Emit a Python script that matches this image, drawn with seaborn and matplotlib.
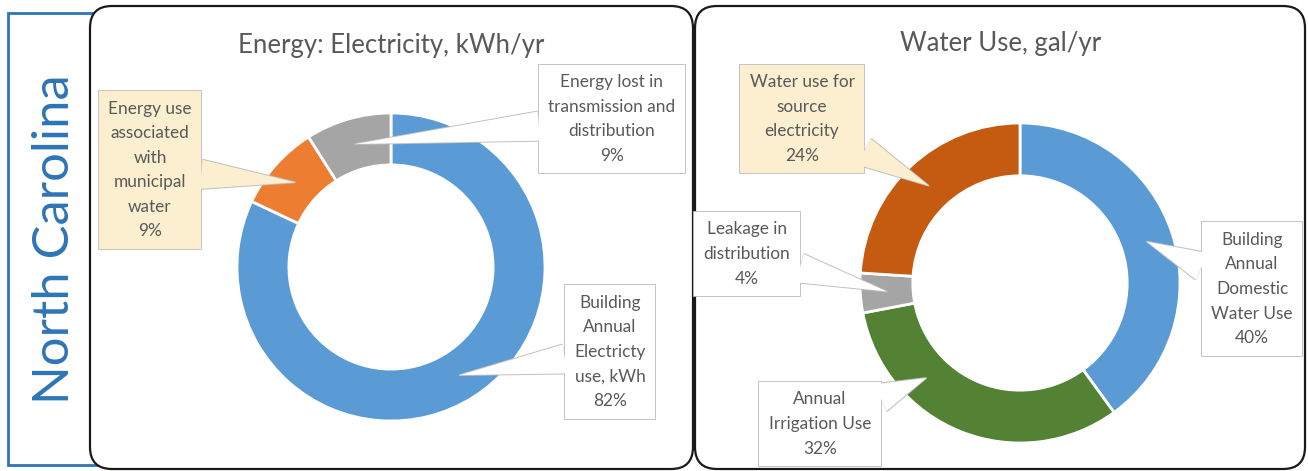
import numpy as np
import matplotlib.pyplot as plt
import seaborn as sns
from matplotlib.patches import FancyBboxPatch, Rectangle

# data
energy_labels = ["Building\nAnnual\nElectricty\nuse, kWh",
                 "Energy use\nassociated\nwith\nmunicipal\nwater",
                 "Energy lost in\ntransmission and\ndistribution"]
energy_pct = [82, 9, 9]
energy_colors = ["#5B9BD5", "#ED7D31", "#A5A5A5"]

water_labels = ["Building\nAnnual\nDomestic\nWater Use",
                "Annual\nIrrigation Use",
                "Leakage in\ndistribution",
                "Water use for\nsource\nelectricity"]
water_pct = [40, 32, 4, 24]
water_colors = ["#5B9BD5", "#548235", "#A5A5A5", "#C55A11"]

# callout box centres (figure pixels, y down), fills, pointer spot inside wedge
energy_boxes = [(610, 352), (150, 170), (612, 119)]
energy_fills = ["white", "#FCEFD0", "white"]
energy_fracs = [0.5, 0.5, 0.5]
water_boxes = [(1252, 289), (820, 424), (747, 254), (802, 119)]
water_fills = ["white", "white", "white", "#FCEFD0"]
water_fracs = [0.5, 0.7, 0.5, 0.5]

sns.set_theme(style="white")
plt.rcParams['font.family'] = ['Lato', 'DejaVu Sans']

W, H = 1308, 471
fig = plt.figure(figsize=(W / 100, H / 100), dpi=100)

bg = fig.add_axes([0, 0, 1, 1])
bg.set_xlim(0, W)
bg.set_ylim(H, 0)
bg.axis("off")

# side label box
bg.add_patch(Rectangle((8, 13), 110, 452, fc="white", ec="#2E75B6", lw=2, zorder=1))
bg.text(55, 239, "North Carolina", rotation=90, fontsize=36.5, color="#2E75B6",
        ha="center", va="center", zorder=2)

# rounded panels
for x0, x1 in [(90, 693), (695, 1305)]:
    bg.add_patch(FancyBboxPatch((x0, 6), x1 - x0, 463,
                                boxstyle="round,pad=0,rounding_size=22",
                                fc="white", ec="#1a1a1a", lw=1.6, zorder=3))

bg.text(391, 45, "Energy: Electricity, kWh/yr", fontsize=18.5, color="#595959",
        ha="center", va="center", zorder=4)
bg.text(1001, 43, "Water Use, gal/yr", fontsize=18.5, color="#595959",
        ha="center", va="center", zorder=4)


def donut(center, radius, width, values, colors, labels, boxes, fills, fracs):
    cx, cy = center
    ax = fig.add_axes([(cx - radius) / W, (H - cy - radius) / H,
                       2 * radius / W, 2 * radius / H])
    ax.patch.set_alpha(0)
    wedges, _ = ax.pie(values, colors=colors, startangle=90, counterclock=False,
                       radius=1, wedgeprops=dict(width=width, edgecolor="white",
                                                 linewidth=2))
    ax.set_xlim(-1, 1)
    ax.set_ylim(-1, 1)
    ax.set_aspect("auto")
    r = 1 - width / 2
    for w, lab, v, xy, fc, f in zip(wedges, labels, values, boxes, fills, fracs):
        ang = np.deg2rad(w.theta2 - f * (w.theta2 - w.theta1))
        tip = (r * np.cos(ang), r * np.sin(ang))
        # outline pass, then a fill-only pass on top so the callout is seamless
        for ec, tcol, lw in [("#BFBFBF", (0, 0, 0, 0), 1.3), ("none", "#595959", 0)]:
            ax.annotate(f"{lab}\n{v}%", xy=tip, xycoords="data",
                        xytext=xy, textcoords=bg.transData,
                        ha="center", va="center", fontsize=12.4, color=tcol,
                        linespacing=1.66,
                        bbox=dict(boxstyle="square,pad=0.55", fc=fc, ec=ec, lw=lw),
                        arrowprops=dict(arrowstyle="wedge,tail_width=1.7,shrink_factor=0.5",
                                        fc=fc, ec=ec, lw=lw,
                                        shrinkA=0, shrinkB=0))
    return ax


donut((391, 267), 154, 0.337, energy_pct, energy_colors, energy_labels,
      energy_boxes, energy_fills, energy_fracs)
donut((1020, 283), 160, 0.33, water_pct, water_colors, water_labels,
      water_boxes, water_fills, water_fracs)

fig.savefig("out.png", dpi=100)
